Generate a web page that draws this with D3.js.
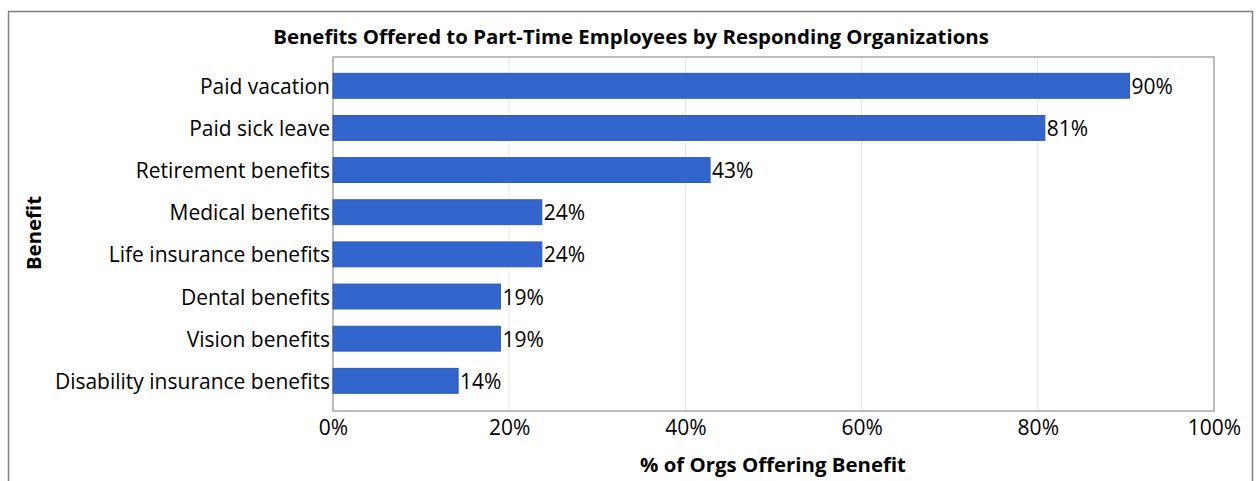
<!DOCTYPE html>
<html>
<head>
<meta charset="utf-8">
<script src="https://cdn.jsdelivr.net/npm/d3@7"></script>
<style>
  body { margin: 0; background: #fff; }
  svg text { font-family: "Open Sans", sans-serif; fill: #000; }
</style>
</head>
<body>
<svg id="chart"></svg>
<script>
var categories = ['Paid vacation', 'Paid sick leave', 'Retirement benefits', 'Medical benefits',
    'Life insurance benefits', 'Dental benefits', 'Vision benefits', 'Disability insurance benefits'];
var values = [0.904, 0.808, 0.428, 0.237, 0.237, 0.19, 0.19, 0.142];
var xTicks = [0, 0.2, 0.4, 0.6, 0.8, 1];

var W = 1260, H = 481;
var PLOT = { LEFT: 333, RIGHT: 1214, TOP: 57, BOTTOM: 411 };
var FONT = '"Open Sans", sans-serif';
var FS = '21px';
var FS_TITLE = '20.4px';

var svg = d3.select('#chart')
    .attr('width', W)
    .attr('height', H);

// outer frame (bottom is cut off in the picture)
svg.append('path')
    .attr('d', 'M8.5,' + (H + 5) + 'V11.5H1252.5V' + (H + 5))
    .style('fill', 'none')
    .style('stroke', '#7f7f7f')
    .style('stroke-width', 1.5);

var xScale = d3.scaleLinear()
    .domain([0, 1])
    .range([PLOT.LEFT, PLOT.RIGHT]);
var yScale = d3.scaleBand()
    .domain(categories)
    .range([64.7, 401.9])
    .paddingInner(0.41)
    .paddingOuter(0.205);

// grid
svg.append('g')
    .selectAll('line')
    .data(xTicks.slice(1, -1))
    .enter()
    .append('line')
    .attr('x1', function (d) { return xScale(d); })
    .attr('x2', function (d) { return xScale(d); })
    .attr('y1', PLOT.TOP)
    .attr('y2', PLOT.BOTTOM)
    .style('stroke', '#e6e6e6')
    .style('stroke-width', 1);

// plot frame
svg.append('rect')
    .attr('x', PLOT.LEFT)
    .attr('y', PLOT.TOP)
    .attr('width', PLOT.RIGHT - PLOT.LEFT)
    .attr('height', PLOT.BOTTOM - PLOT.TOP)
    .style('fill', 'none')
    .style('stroke', '#a6a6a6')
    .style('stroke-width', 1.5);

// bars
svg.append('g')
    .selectAll('rect')
    .data(values)
    .enter()
    .append('rect')
    .attr('x', xScale(0))
    .attr('y', function (d, i) { return yScale(categories[i]); })
    .attr('width', function (d) { return xScale(d) - xScale(0); })
    .attr('height', yScale.bandwidth())
    .style('fill', '#3366cc')
    .style('stroke', '#2d59b3')
    .style('stroke-width', 1);

// value labels
var pct = d3.format('.0%');
svg.append('g')
    .selectAll('text')
    .data(values)
    .enter()
    .append('text')
    .attr('x', function (d) { return xScale(d) + 2; })
    .attr('y', function (d, i) { return yScale(categories[i]) + yScale.bandwidth() / 2; })
    .attr('dy', '0.38em')
    .style('font-size', FS)
    .text(function (d) { return pct(d); });

// y axis labels
var yAxis = d3.axisLeft(yScale).tickSize(0).tickPadding(3);
var gy = svg.append('g')
    .attr('transform', 'translate(' + PLOT.LEFT + ',0)')
    .call(yAxis);
gy.select('.domain').remove();
gy.selectAll('text').attr('dy', '0.38em').style('font-size', FS).style('font-family', FONT);

// x axis labels
var xAxis = d3.axisBottom(xScale)
    .tickValues(xTicks)
    .tickFormat(pct)
    .tickSize(0)
    .tickPadding(9);
var gx = svg.append('g')
    .attr('transform', 'translate(0,' + PLOT.BOTTOM + ')')
    .call(xAxis);
gx.select('.domain').remove();
gx.selectAll('text').style('font-size', FS).style('font-family', FONT);

// titles
svg.append('text')
    .attr('x', 631)
    .attr('y', 44)
    .attr('text-anchor', 'middle')
    .style('font-size', FS_TITLE)
    .style('font-weight', 'bold')
    .text('Benefits Offered to Part-Time Employees by Responding Organizations');
svg.append('text')
    .attr('x', 773)
    .attr('y', 472)
    .attr('text-anchor', 'middle')
    .style('font-size', FS_TITLE)
    .style('font-weight', 'bold')
    .text('% of Orgs Offering Benefit');
svg.append('text')
    .attr('transform', 'translate(41,233) rotate(-90)')
    .attr('text-anchor', 'middle')
    .style('font-size', FS_TITLE)
    .style('font-weight', 'bold')
    .text('Benefit');
</script>
</body>
</html>
